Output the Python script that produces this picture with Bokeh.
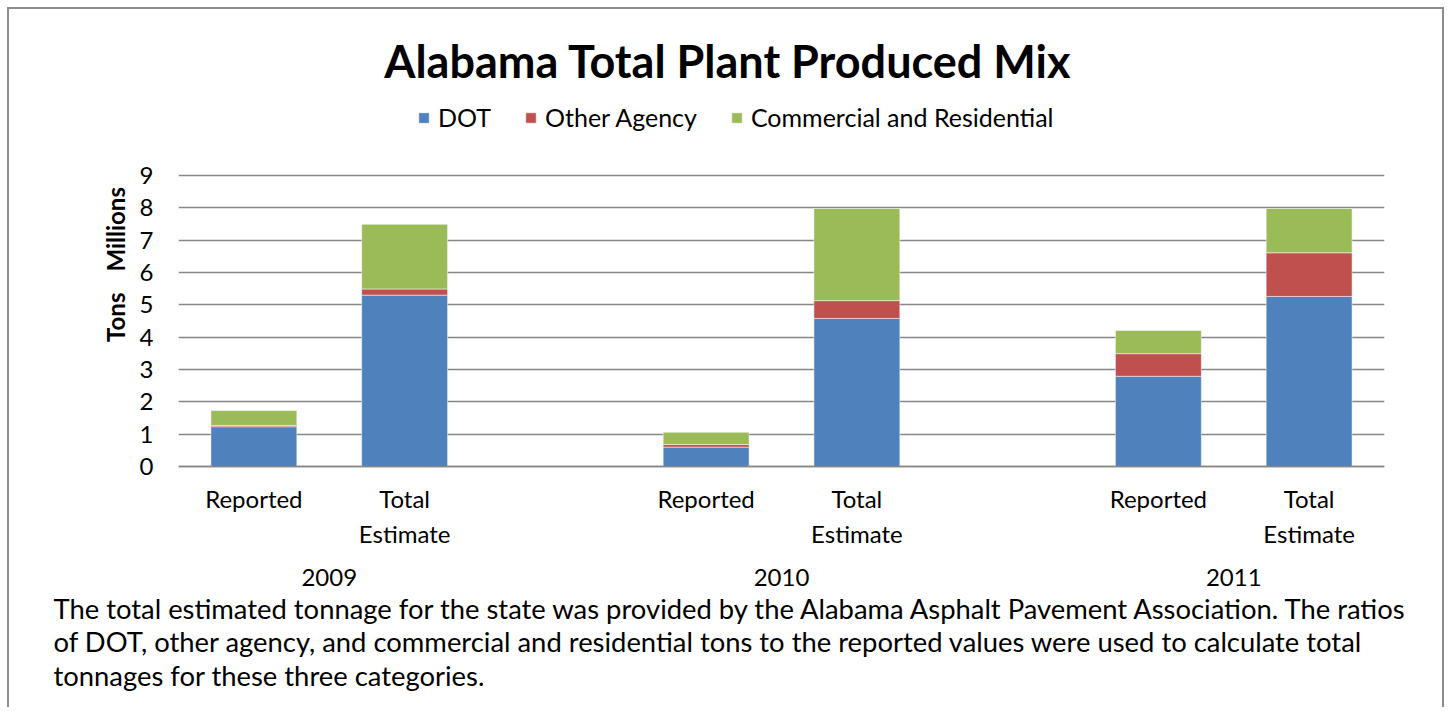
from bokeh.plotting import figure
from bokeh.models import (ColumnDataSource, FactorRange, Range1d, Legend, LegendItem,
                          Label, FixedTicker, Title)
from bokeh.embed import file_html
from bokeh.resources import INLINE

# ---------------- data ----------------
years = ["2009", "2010", "2011"]
kinds = ["Reported", "Total\nEstimate"]
series = ["DOT", "Other Agency", "Commercial and Residential"]
dot = [1.23, 5.30, 0.60, 4.58, 2.79, 5.26]
other = [0.04, 0.19, 0.08, 0.55, 0.70, 1.35]
comm = [0.46, 2.00, 0.38, 2.85, 0.72, 1.37]
y_ticks = [0, 1, 2, 3, 4, 5, 6, 7, 8, 9]
title_text = "Alabama Total Plant Produced Mix"
y_title = "Tons"
y_units = "Millions"
note_lines = [
    "The total estimated tonnage for the state was provided by the Alabama Asphalt Pavement Association. The ratios",
    "of DOT, other agency, and commercial and residential tons to the reported values were used to calculate total",
    "tonnages for these three categories.",
]

# ---------------- styles / layout ----------------
colors = ["#4F81BD", "#C0504D", "#9BBB59"]
FONT = "Lato"
GRID = "#868686"
EM = "\u2003"
THIN = "\u2009"

factors = [(y, k) for y in years for k in kinds]
source = ColumnDataSource(data={"x": factors, series[0]: dot, series[1]: other, series[2]: comm})

# the frame reaches the top of the canvas; the value axis spans 0..9 inside it
p = figure(
    x_range=FactorRange(*factors, factor_padding=0, group_padding=1.0, range_padding=0),
    y_range=Range1d(-3.866, 14.134),
    width=1437, height=700,
    output_backend="svg", toolbar_location=None,
    min_border_left=169, min_border_right=62, min_border_top=0, min_border_bottom=118,
)
p.styles = {"margin-left": "7px", "margin-top": "7px",
            "border-top": "2px solid #8c8c8c", "border-left": "2px solid #8c8c8c",
            "border-right": "2px solid #8c8c8c"}
p.outline_line_color = None

renderers = p.vbar_stack(series, x="x", width=0.57, color=colors, source=source,
                         line_color="white", line_width=1, line_alpha=0.5)

# chart title
p.add_layout(Label(x=549.5, y=531, x_units="screen", y_units="screen", text=title_text,
                   text_align="center", text_baseline="alphabetic",
                   text_font=FONT, text_font_size="45px", text_font_style="bold",
                   text_color="black"))

# legend
legend = Legend(
    items=[LegendItem(label=s, renderers=[r]) for s, r in zip(series, renderers)],
    orientation="horizontal", location=(239, 459),
    glyph_width=13, glyph_height=13, label_standoff=8, spacing=33,
    padding=0, margin=0, border_line_color=None, background_fill_alpha=0,
    label_text_font=FONT, label_text_font_size="25px", label_text_color="black",
)
p.add_layout(legend)

# grid
p.xgrid.grid_line_color = None
p.ygrid.grid_line_color = GRID
p.ygrid.grid_line_width = 1.5
p.yaxis.ticker = FixedTicker(ticks=y_ticks)

# y axis
p.yaxis.axis_line_color = None
p.yaxis.major_tick_line_color = None
p.yaxis.minor_tick_line_color = None
p.yaxis.major_tick_out = 0
p.yaxis.major_label_standoff = 25
p.yaxis.major_label_text_font = FONT
p.yaxis.major_label_text_font_size = "24px"
p.yaxis.major_label_text_color = "black"
p.yaxis.axis_label = EM * 4 + y_title + EM + THIN + y_units
p.yaxis.axis_label_text_font = FONT
p.yaxis.axis_label_text_font_size = "24px"
p.yaxis.axis_label_text_font_style = "bold"
p.yaxis.axis_label_text_color = "black"
p.yaxis.axis_label_standoff = 7

# x axis, drawn at value 0
p.xaxis.fixed_location = 0
p.xaxis.axis_line_color = GRID
p.xaxis.axis_line_width = 1.5
p.xaxis.major_tick_line_color = None
p.xaxis.minor_tick_line_color = None
p.xaxis.major_tick_out = 0
p.xaxis.major_label_standoff = 18
p.xaxis.major_label_text_font = FONT
p.xaxis.major_label_text_font_size = "24px"
p.xaxis.major_label_text_color = "black"
p.xaxis.group_text_font = FONT
p.xaxis.group_text_font_size = "24px"
p.xaxis.group_text_font_style = "normal"
p.xaxis.group_text_color = "black"
p.xaxis.separator_line_color = None

# explanatory note below the chart
note = Title(text="\n".join(note_lines), align="left", vertical_align="top",
             offset=-125, standoff=0,
             text_font=FONT, text_font_size="27.4px", text_font_style="normal",
             text_color="black", text_line_height=1.02)
p.add_layout(note, "below")

open("out.html", "w").write(file_html(p, INLINE))
